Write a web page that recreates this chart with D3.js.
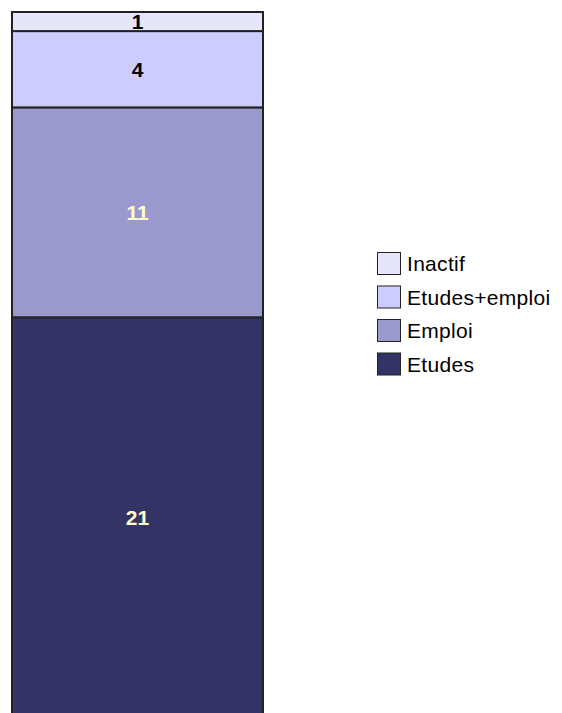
<!DOCTYPE html>
<html lang="fr">
<head>
<meta charset="utf-8">
<title>D3</title>
<style>
  body { margin: 0; background: #fff; }
  .lbl { font-family: Arial, "Liberation Sans", sans-serif; font-weight: bold; font-size: 21px; }
  .leg { font-family: Arial, "Liberation Sans", sans-serif; font-size: 21px; fill: #000; letter-spacing: 0.3px; }
</style>
<script src="https://d3js.org/d3.v7.min.js"></script>
</head>
<body>
<svg width="562" height="713"></svg>
<script>
// data, bottom to top
var categories = ["Etudes", "Emploi", "Etudes+emploi", "Inactif"];
var values = [21, 11, 4, 1];
var colors = ["#333366", "#9999CC", "#CCCCFF", "#E6E6FA"];
var labelColors = ["#FFFFCC", "#FFFFCC", "#000000", "#000000"];

var svg = d3.select("svg");

var total = d3.sum(values);
var y = d3.scaleLinear().domain([0, total]).range([718, 12]);
var x = d3.scaleBand().domain(["all"]).range([12, 263]).padding(0);

// stack
var stacked = [];
var acc = 0;
values.forEach(function(v, i) {
  stacked.push({ name: categories[i], v: v, y0: acc, y1: acc + v, color: colors[i], lc: labelColors[i] });
  acc += v;
});

var g = svg.append("g");

g.selectAll("rect.seg")
  .data(stacked)
  .enter()
  .append("rect")
  .attr("class", "seg")
  .attr("x", x("all"))
  .attr("width", x.bandwidth())
  .attr("y", function(d) { return y(d.y1); })
  .attr("height", function(d) { return y(d.y0) - y(d.y1); })
  .attr("fill", function(d) { return d.color; })
  .attr("stroke", "#222")
  .attr("stroke-width", 2);

g.selectAll("text.lbl")
  .data(stacked)
  .enter()
  .append("text")
  .attr("class", "lbl")
  .attr("x", x("all") + x.bandwidth() / 2)
  .attr("y", function(d) { return (y(d.y0) + y(d.y1)) / 2; })
  .attr("dy", "0.36em")
  .attr("text-anchor", "middle")
  .attr("fill", function(d) { return d.lc; })
  .text(function(d) { return d.v; });

// legend, top to bottom
var legendData = stacked.slice().reverse();
var leg = svg.append("g").attr("transform", "translate(377,252)");
var row = leg.selectAll("g")
  .data(legendData)
  .enter()
  .append("g")
  .attr("transform", function(d, i) { return "translate(0," + (i * 33.5) + ")"; });

row.append("rect")
  .attr("x", 0.5)
  .attr("y", 0.5)
  .attr("width", 23)
  .attr("height", 22)
  .attr("fill", function(d) { return d.color; })
  .attr("stroke", "#222")
  .attr("stroke-width", 1);

row.append("text")
  .attr("class", "leg")
  .attr("x", 30)
  .attr("y", 19)
  .text(function(d) { return d.name; });
</script>
</body>
</html>
